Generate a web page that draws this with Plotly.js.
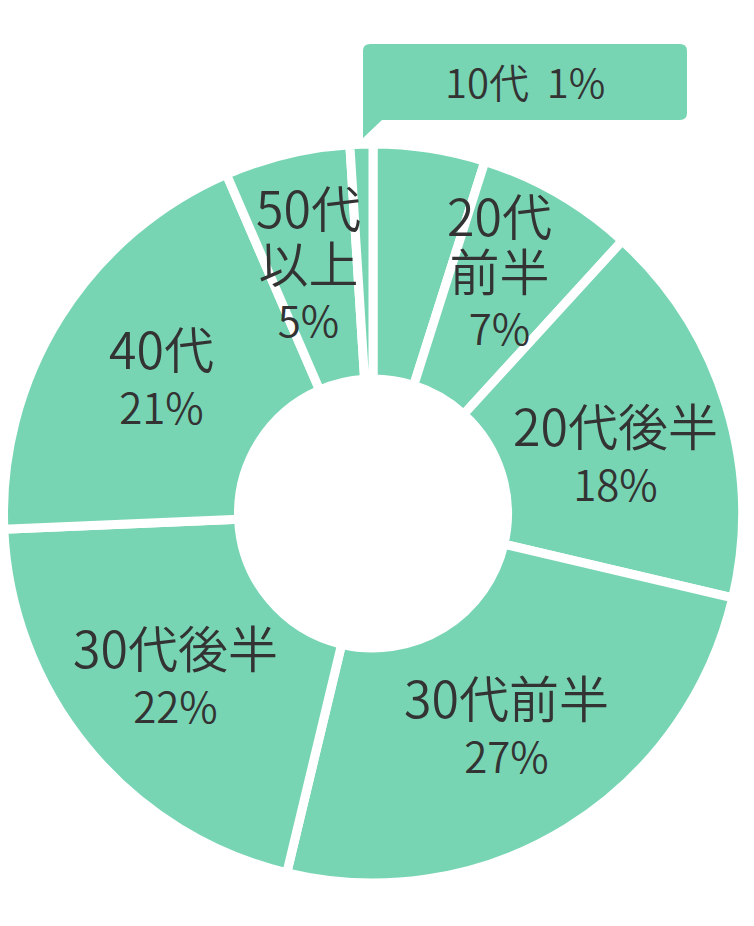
<!DOCTYPE html>
<html><head><meta charset="utf-8">
<script src="https://cdn.plot.ly/plotly-3.0.1.min.js"></script>
<style>html,body{margin:0;padding:0;background:#fff;}#chart{width:754px;height:926px;}</style>
</head><body><div id="chart"></div>
<script>
// ---- data (clockwise from 12 o'clock) ----
const categories = ['(無表記)', '20代前半', '20代後半', '30代前半', '30代後半', '40代', '50代以上', '10代'];
const sliceValues = [4.9, 6.9, 16.9, 25.1, 20.6, 19.2, 5.5, 1.0];
const nameLines = [[], ['20代', '前半'], ['20代後半'], ['30代前半'], ['30代後半'], ['40代'], ['50代', '以上'], []];
const pctLabels = ['', '7%', '18%', '27%', '22%', '21%', '5%', '1%'];
const calloutIndex = 7;

// ---- style / geometry ----
const W = 754, H = 926;
const CX = 373, CY = 513.5, RVIS = 365, GAP = 9;
const R = RVIS + GAP / 2;
const HOLE_VIS = 139;
const FILL = '#78D5B3', TXT = '#333333';
const FONT = '"Noto Sans CJK JP", "Noto Sans", sans-serif';
const FONT_WEIGHT = 350;
const NAME_SIZE = 50, PCT_SIZE = 42, LABEL_R = 258;
// small pixel nudges of each label block from its slice mid-angle point
const labelNudge = [[0, 0], [-3, -23], [-4, 13], [-2, -11], [2, -5], [7, -3], [-4, -3], [0, 0]];

const px = x => x / W;
const py = y => 1 - y / H;

const trace = {
  type: 'pie',
  labels: categories,
  values: sliceValues,
  sort: false,
  direction: 'clockwise',
  rotation: 0,
  hole: (HOLE_VIS - GAP / 2) / R,
  textinfo: 'none',
  hoverinfo: 'label+percent',
  showlegend: false,
  marker: { colors: categories.map(() => FILL), line: { color: '#ffffff', width: GAP } },
  domain: { x: [px(CX - R), px(CX + R)], y: [py(CY + R), py(CY - R)] }
};

// label annotations placed at slice mid-angles computed from the values
const total = sliceValues.reduce((a, b) => a + b, 0);
const annotations = [];
let cum = 0;
sliceValues.forEach((v, i) => {
  const mid = (cum + v / 2) / total * 2 * Math.PI;
  cum += v;
  if (!nameLines[i].length || i === calloutIndex) return;
  const lx = CX + LABEL_R * Math.sin(mid) + labelNudge[i][0];
  const ly = CY - LABEL_R * Math.cos(mid) + labelNudge[i][1];
  const txt = nameLines[i].map(t => '<span style="font-size:' + NAME_SIZE + 'px">' + t + '</span>')
    .concat([pctLabels[i]]).join('<br>');
  annotations.push({
    xref: 'paper', yref: 'paper', x: px(lx), y: py(ly),
    xanchor: 'center', yanchor: 'middle', showarrow: false, align: 'center',
    text: txt, font: { family: FONT, size: PCT_SIZE, color: TXT, weight: FONT_WEIGHT }
  });
});

// callout box for the tiny slice
const bx0 = 363, bx1 = 687, by0 = 44, by1 = 120, cr = 7;
const P = (x, y) => px(x) + ',' + py(y);
const calloutPath =
  'M ' + P(bx0 + cr, by0) + ' L ' + P(bx1 - cr, by0) +
  ' Q ' + P(bx1, by0) + ' ' + P(bx1, by0 + cr) +
  ' L ' + P(bx1, by1 - cr) +
  ' Q ' + P(bx1, by1) + ' ' + P(bx1 - cr, by1) +
  ' L ' + P(bx0 + 19, by1) + ' L ' + P(bx0, by1 + 18) +
  ' L ' + P(bx0, by0 + cr) +
  ' Q ' + P(bx0, by0) + ' ' + P(bx0 + cr, by0) + ' Z';

annotations.push({
  xref: 'paper', yref: 'paper', x: px((bx0 + bx1) / 2), y: py((by0 + by1) / 2 - 1),
  xanchor: 'center', yanchor: 'middle', showarrow: false,
  text: categories[calloutIndex] + '&nbsp;&nbsp;' + pctLabels[calloutIndex],
  font: { family: FONT, size: 40, color: TXT, weight: FONT_WEIGHT }
});

const layout = {
  width: W, height: H,
  margin: { l: 0, r: 0, t: 0, b: 0 },
  paper_bgcolor: '#ffffff',
  showlegend: false,
  shapes: [{ type: 'path', xref: 'paper', yref: 'paper', path: calloutPath, fillcolor: FILL, line: { width: 0 } }],
  annotations: annotations
};

Plotly.newPlot('chart', [trace], layout, { displayModeBar: false, staticPlot: true });
</script>
</body></html>
